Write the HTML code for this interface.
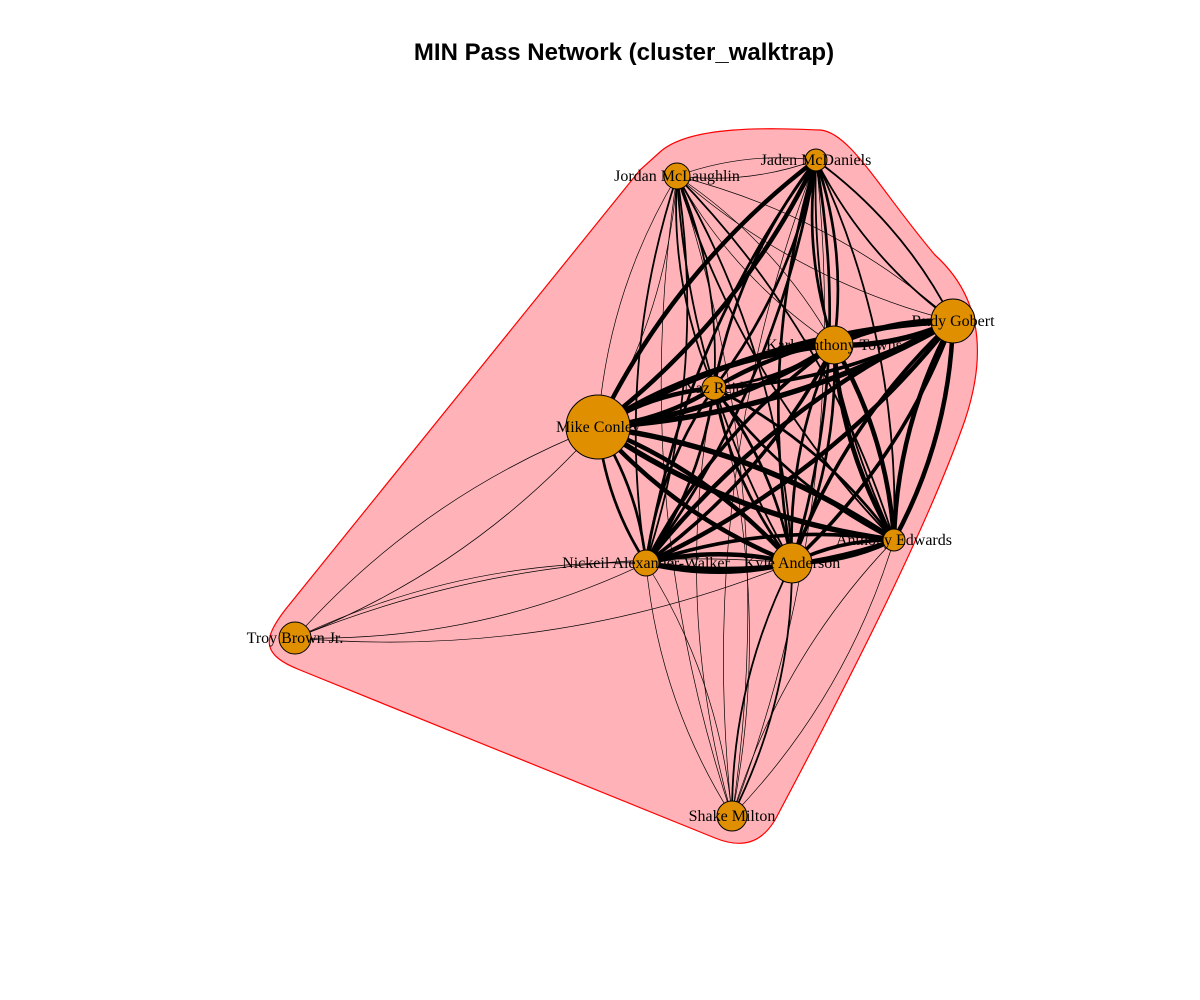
<!DOCTYPE html>
<html><head><meta charset="utf-8"><style>
html,body{margin:0;padding:0;background:#fff}
svg{display:block}
text{font-family:"Liberation Serif",serif}
</style></head><body>
<svg id="chart" width="1200" height="1000" viewBox="0 0 1200 1000" xmlns="http://www.w3.org/2000/svg">
<text x="624" y="60" text-anchor="middle" style="font-family:'Liberation Sans',sans-serif;font-weight:bold;font-size:24px">MIN Pass Network (cluster_walktrap)</text>
<path d="M660,152 C690,125 770,128 820,130 C850,132 880,190 935,255 C985,300 985,360 965,420 C930,520 860,660 775,820 C760,845 740,848 715,838 L300,670 C262,655 262,640 285,610 L640,170 Z" fill="#ffb3b8" stroke="#ff0000" stroke-width="1.2"/>
<g id="edges"></g><g id="nodes"></g><g id="labels"></g>
</svg>
<script>
const names=["Jordan McLaughlin","Jaden McDaniels","Rudy Gobert","Karl-Anthony Towns","Naz Reid","Mike Conley","Anthony Edwards","Kyle Anderson","Nickeil Alexander-Walker","Troy Brown Jr.","Shake Milton"];
const nodeX=[677,816,953,834,714,598,894,792,646,295,732];
const nodeY=[176,160,321,345,388,427,540,563,563,638,816];
const nodeR=[13,11,22,19,12,32,11,20,13,16,15];
// [from, to, weight]
const edges=[[5,3,6],[5,2,6],[5,4,5],[5,1,5],[5,6,6],[5,7,5],[5,8,3],[5,0,1],[5,9,1],[3,2,6],[3,6,5],[3,7,3],[3,8,4],[3,1,3],[3,0,1],[3,4,3],[2,6,5],[2,7,4],[2,8,5],[2,4,4],[2,1,2],[2,0,1],[6,7,4],[6,8,4],[6,4,3],[6,1,2],[6,0,2],[6,10,1],[7,8,5],[7,4,3],[7,1,3],[7,0,2],[7,10,2],[8,4,3],[8,1,3],[8,0,2],[8,10,1],[8,9,1],[4,1,3],[4,0,2],[0,1,1],[9,7,1],[10,0,1],[10,1,1],[10,4,1]];
const NS="http://www.w3.org/2000/svg";
const eg=document.getElementById('edges'),ng=document.getElementById('nodes'),lg=document.getElementById('labels');
edges.forEach(([a,b,w])=>{
  [[a,b],[b,a]].forEach(([s,t])=>{
    const x1=nodeX[s],y1=nodeY[s],x2=nodeX[t],y2=nodeY[t];
    const dx=x2-x1,dy=y2-y1,c=0.12;
    const cx=(x1+x2)/2-dy*c,cy=(y1+y2)/2+dx*c;
    const p=document.createElementNS(NS,'path');
    
    
    p.setAttribute('d',`M${x1},${y1} Q${cx},${cy} ${x2},${y2}`);
    p.setAttribute('fill','none');p.setAttribute('stroke','#000');
    p.setAttribute('stroke-width',w<=1?0.7:w*0.9);
    eg.appendChild(p);
  });
});
names.forEach((n,i)=>{
  const c=document.createElementNS(NS,'circle');
  
  
  c.setAttribute('cx',nodeX[i]);c.setAttribute('cy',nodeY[i]);c.setAttribute('r',nodeR[i]);
  c.setAttribute('fill','#e08f00');c.setAttribute('stroke','#000');c.setAttribute('stroke-width','1');
  ng.appendChild(c);
  const t=document.createElementNS(NS,'text');
  
  
  t.setAttribute('x',nodeX[i]);t.setAttribute('y',nodeY[i]+5);
  t.setAttribute('text-anchor','middle');t.setAttribute('font-size','16');
  t.textContent=n;lg.appendChild(t);
});
</script>
</body></html>
